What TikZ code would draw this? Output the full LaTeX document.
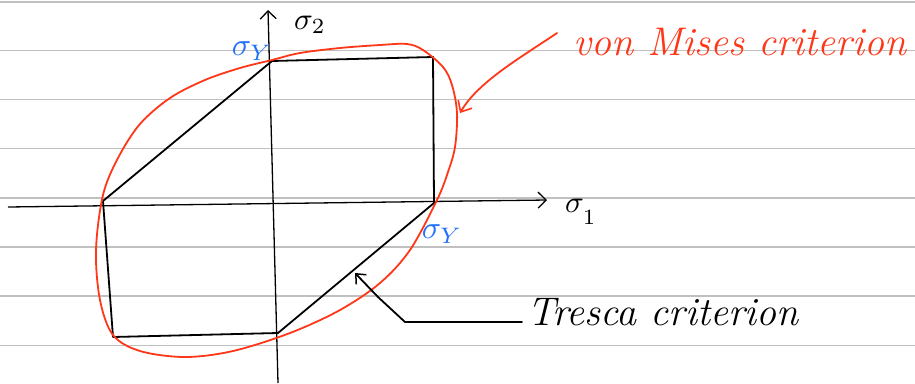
\documentclass[tikz,border=0pt]{standalone}
\usetikzlibrary{arrows.meta}
\definecolor{redpen}{RGB}{255,55,25}
\definecolor{bluepen}{RGB}{35,115,250}
\definecolor{ruling}{RGB}{192,192,192}
\begin{document}
\begin{tikzpicture}[x=1pt,y=-1pt,
  ruleline/.style={draw=ruling,line width=1.3pt},
  axisline/.style={draw=black,line width=1.3pt,-{Straight Barb[length=8pt,width=16pt,line width=1.3pt]}},
  tresca/.style={draw=black,line width=1.8pt,line join=round,line cap=round},
  vm/.style={draw=redpen,line width=1.8pt,line cap=round},
  blab/.style={text=bluepen,scale=3.2,transform shape,inner sep=0pt},
  klab/.style={text=black,scale=3.1,transform shape,inner sep=0pt},
  hand/.style={inner sep=0pt,anchor=base west}]
\useasboundingbox (0,0) rectangle (915,383);
\fill[white] (0,0) rectangle (915,383);
\foreach \yy in {2,50.7,99.3,148.7,198,247,296,345.3}
  \draw[ruleline] (0,\yy) -- (915,\yy);
% axes
\coordinate (xs) at (8,207);
\coordinate (xe) at (547,200);
\coordinate (ys) at (278,383);
\coordinate (ye) at (268,10);
\draw[axisline] (xs) -- (xe);
\draw[axisline] (ys) -- (ye);
\node[klab] (s1) at (581,212) {$\sigma_{\raisebox{-2.5pt}{$\scriptstyle 1$}}$};
\node[klab] (s2) at (310,25) {$\sigma_2$};
% Tresca hexagon
\coordinate (A) at (103,201);
\coordinate (B) at (272,61);
\coordinate (C) at (433,57);
\coordinate (D) at (434,203);
\coordinate (E) at (278,333);
\coordinate (F) at (113,337);
\draw[tresca] (A) -- (B) -- (C) -- (D) -- (E) -- (F) -- cycle;
% von Mises ellipse
\draw[vm] plot[smooth cycle,tension=0.55] coordinates {
 (272,60) (300,53) (340,48) (380,45) (407,44) (423,50) (443,67) (452,85)
 (457,113) (455,147) (448,172) (437,200) (410,250) (380,283) (340,310)
 (290,333) (233,351) (185,357) (140,351) (113,335) (100,300) (96,250)
 (103,195) (118,158) (140,124) (170,98) (205,80) (240,68)};
% sigma_Y labels
\node[blab] (sy1) at (252,51) {$\sigma_Y$};
\node[blab] (sy2) at (442,234) {$\sigma_Y$};
% von Mises label and arrow
\node[hand,text=redpen,font=\fontsize{40}{42}\selectfont\itshape] (vml) at (573,55) {von Mises criterion};
\coordinate (ra) at (557,33);
\coordinate (rb) at (460,113);
\draw[vm,-{Straight Barb[length=9pt,width=16pt,line width=1.6pt]}] (ra) .. controls (520,58) and (478,82) .. (rb);
% Tresca label and leader
\node[hand,text=black,font=\fontsize{40}{42}\selectfont\itshape] (trl) at (527,325) {Tresca criterion};
\coordinate (le) at (522,322);
\coordinate (lk) at (405,322);
\coordinate (lm) at (378,297);
\coordinate (tip) at (355,273);
\draw[tresca,-{Straight Barb[length=8pt,width=14pt,line width=1.5pt]}] (le) -- (lk) -- (lm) -- (tip);
\end{tikzpicture}
\end{document}
